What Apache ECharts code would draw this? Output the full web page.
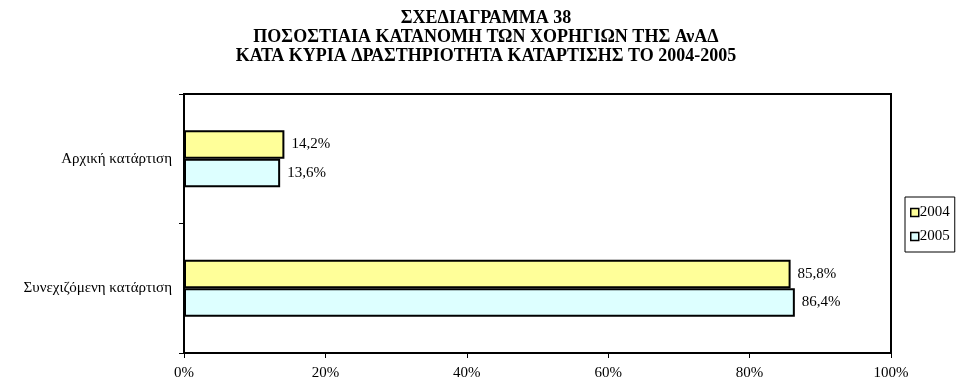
<!DOCTYPE html>
<html>
<head>
<meta charset="utf-8">
<script src="https://cdn.jsdelivr.net/npm/echarts@6/dist/echarts.min.js"></script>
<style>
  html, body { margin: 0; padding: 0; background: #fff; }
  #chart { width: 964px; height: 385px; }
</style>
</head>
<body>
<div id="chart"></div>
<script>
// Categories (top to bottom) and shares per year, in percent
const categories = ['Αρχική κατάρτιση', 'Συνεχιζόμενη κατάρτιση'];
const values2004 = [14.2, 85.8];
const values2005 = [13.6, 86.4];
const xTicks = [0, 20, 40, 60, 80, 100];

const titleLines = [
  'ΣΧΕΔΙΑΓΡΑΜΜΑ 38',
  'ΠΟΣΟΣΤΙΑΙΑ ΚΑΤΑΝΟΜΗ ΤΩΝ ΧΟΡΗΓΙΩΝ ΤΗΣ ΑνΑΔ',
  'ΚΑΤΑ ΚΥΡΙΑ ΔΡΑΣΤΗΡΙΟΤΗΤΑ ΚΑΤΑΡΤΙΣΗΣ ΤΟ 2004-2005'
];

const font = 'Liberation Serif, Times New Roman, serif';
const fmtPct = v => v.toFixed(1).replace('.', ',') + '%';

const chart = echarts.init(document.getElementById('chart'));
chart.setOption({
  animation: false,
  textStyle: { fontFamily: font, color: '#000' },
  title: {
    text: titleLines.join('\n'),
    left: 481,
    textAlign: 'center',
    top: 4,
    textStyle: { fontFamily: font, fontSize: 18, fontWeight: 'bold', lineHeight: 19, color: '#000' }
  },
  legend: {
    orient: 'vertical',
    left: 905,
    top: 197,
    padding: [8, 5, 8, 5],
    itemGap: 9,
    itemWidth: 8,
    itemHeight: 8,
    borderColor: '#000',
    borderWidth: 1,
    icon: 'rect',
    textStyle: { fontFamily: font, fontSize: 15, color: '#000', padding: [0, 0, 0, -4] },
    itemStyle: { borderColor: '#000', borderWidth: 1.5 },
    data: ['2004', '2005']
  },
  grid: {
    left: 184, right: 73, top: 94, bottom: 32,
    show: true, borderColor: '#000', borderWidth: 2, backgroundColor: '#fff'
  },
  xAxis: {
    type: 'value',
    min: 0, max: 100, interval: 20,
    axisLine: { show: true, lineStyle: { color: '#000', width: 2 } },
    axisTick: { show: true, length: 5, lineStyle: { color: '#000' } },
    splitLine: { show: false },
    axisLabel: {
      fontFamily: font, fontSize: 15, color: '#000', margin: 13,
      formatter: v => xTicks.includes(v) ? v + '%' : ''
    }
  },
  yAxis: {
    type: 'category',
    inverse: true,
    data: categories,
    axisLine: { show: true, lineStyle: { color: '#000', width: 2 } },
    axisTick: { show: true, length: 5, lineStyle: { color: '#000' } },
    axisLabel: { fontFamily: font, fontSize: 15, color: '#000', margin: 12 }
  },
  series: [
    {
      name: '2004', type: 'bar', data: values2004,
      barGap: '0%', barCategoryGap: '56%',
      itemStyle: { color: '#FFFF99', borderColor: '#000', borderWidth: 2 },
      label: { show: true, position: 'right', distance: 7, fontFamily: font, fontSize: 15, color: '#000', formatter: p => fmtPct(p.value) }
    },
    {
      name: '2005', type: 'bar', data: values2005,
      barGap: '0%', barCategoryGap: '56%',
      itemStyle: { color: '#DDFFFF', borderColor: '#000', borderWidth: 2 },
      label: { show: true, position: 'right', distance: 7, fontFamily: font, fontSize: 15, color: '#000', formatter: p => fmtPct(p.value) }
    }
  ]
});
</script>
</body>
</html>
